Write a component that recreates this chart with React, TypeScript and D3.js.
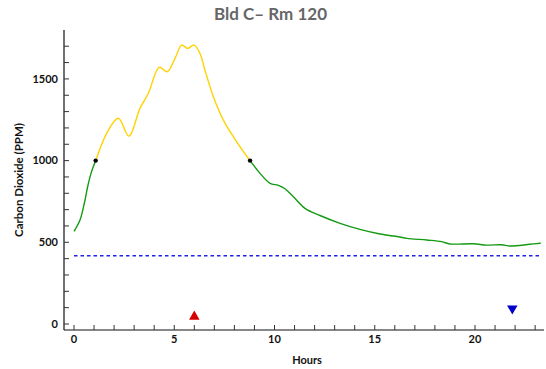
import React from "react";
import * as d3 from "d3";

const title = "Bld C– Rm 120";
const xLabel = "Hours";
const yLabel = "Carbon Dioxide (PPM)";

const hours = [0, 0.3, 0.55, 0.68, 0.85, 1.08, 1.63, 2.21, 2.74, 3.29, 3.71, 4.25, 4.65, 5.04, 5.37, 5.67, 5.99, 6.28, 6.53, 6.95, 7.45, 7.95, 8.78, 9.28, 9.78, 10.19, 10.52, 10.94, 11.52, 12.27, 13.27, 14.26, 15.26, 16.18, 16.6, 17.6, 18.34, 18.75, 19.92, 20.58, 21.33, 21.75, 22.74, 23.28];
const co2 = [567, 636, 759, 840, 922, 1000, 1167, 1259, 1150, 1320, 1412, 1571, 1544, 1626, 1707, 1687, 1707, 1657, 1554, 1391, 1248, 1146, 1000, 922, 861, 849, 828, 779, 708, 664, 616, 579, 551, 534, 524, 514, 504, 490, 491, 483, 485, 477, 488, 494];

const threshold = 1000;
const crossingHours = [1.08, 8.78];
const baseline = 418;
const baselineHours = [0, 23.3];

const upMarker = { hour: 6, value: 45 };
const downMarker = { hour: 21.86, value: 95 };

const xTicks = [0, 5, 10, 15, 20];
const xMinorTicks = d3.range(0, 24, 1);
const yTicks = [0, 500, 1000, 1500];
const yMinorTicks = d3.range(0, 1800, 100);

const W = 546;
const H = 369;
const FONT = "Lato, 'Open Sans', sans-serif";

export default function App() {
  const x = d3.scaleLinear().domain([0, 23]).range([74, 74 + 23 * 20.05]);
  const y = d3.scaleLinear().domain([0, 1800]).range([324, 29.9]);
  const axisLeft = 64;
  const axisBottom = 330;
  const axisRight = 544;
  const axisTop = y(1800);

  const data = hours.map((h, i) => ({ h, v: co2[i] }));
  const line = d3
    .line<{ h: number; v: number }>()
    .x((d) => x(d.h))
    .y((d) => y(d.v))
    .curve(d3.curveCatmullRom.alpha(0.5));
  const path = line(data) || "";

  const yThr = y(threshold);
  const tri = d3.symbol().type(d3.symbolTriangle).size(48)() || "";

  return (
    <svg width={W} height={H} style={{ position: "absolute", left: 0, top: 0 }}>
      <defs>
        <clipPath id="above">
          <rect x={0} y={0} width={W} height={yThr} />
        </clipPath>
        <clipPath id="below">
          <rect x={0} y={yThr} width={W} height={H - yThr} />
        </clipPath>
      </defs>
      <rect width={W} height={H} fill="#fff" />
      <text x={270.5} y={20} textAnchor="middle" fontFamily={FONT} fontWeight="bold" fontSize={17} fill="#666">
        {title}
      </text>

      {/* axes */}
      <line x1={axisLeft} x2={axisLeft} y1={axisTop} y2={axisBottom} stroke="#111" strokeWidth={1.2} />
      <line x1={axisLeft} x2={axisRight} y1={axisBottom} y2={axisBottom} stroke="#111" strokeWidth={1.2} />
      {yMinorTicks.map((t) => (
        <line key={"ym" + t} x1={axisLeft} x2={axisLeft + 5} y1={y(t)} y2={y(t)} stroke="#333" strokeWidth={1} />
      ))}
      {yTicks.map((t) => (
        <text key={"yt" + t} x={58} y={y(t)} dy="0.35em" textAnchor="end" fontFamily={FONT} fontWeight="bold" fontSize={11} fill="#111">
          {t}
        </text>
      ))}
      {xMinorTicks.map((t) => (
        <line key={"xm" + t} x1={x(t)} x2={x(t)} y1={axisBottom} y2={axisBottom - 5} stroke="#333" strokeWidth={1} />
      ))}
      {xTicks.map((t) => (
        <text key={"xt" + t} x={x(t)} y={339} dy="0.35em" textAnchor="middle" fontFamily={FONT} fontWeight="bold" fontSize={11} fill="#111">
          {t}
        </text>
      ))}
      <text x={307} y={360} dy="0.35em" textAnchor="middle" fontFamily={FONT} fontWeight="bold" fontSize={11} fill="#111">
        {xLabel}
      </text>
      <text
        transform={`translate(19,${(axisTop + axisBottom) / 2}) rotate(-90)`}
        dy="0.35em"
        textAnchor="middle"
        fontFamily={FONT}
        fontWeight="bold"
        fontSize={11.5}
        fill="#111"
      >
        {yLabel}
      </text>

      {/* baseline */}
      <line
        x1={x(baselineHours[0])}
        x2={x(baselineHours[1])}
        y1={y(baseline)}
        y2={y(baseline)}
        stroke="#2020e8"
        strokeWidth={1.5}
        strokeDasharray="3.5,3"
      />

      {/* curve */}
      <path d={path} fill="none" stroke="#149a14" strokeWidth={1.4} clipPath="url(#below)" />
      <path d={path} fill="none" stroke="#ffd200" strokeWidth={1.4} clipPath="url(#above)" />
      {crossingHours.map((h) => (
        <circle key={"c" + h} cx={x(h)} cy={y(threshold)} r={2.2} fill="#000" />
      ))}

      {/* markers */}
      <path d={tri} transform={`translate(${x(upMarker.hour)},${y(upMarker.value)})`} fill="#d40000" />
      <path d={tri} transform={`translate(${x(downMarker.hour)},${y(downMarker.value)}) rotate(180)`} fill="#0000c8" />
    </svg>
  );
}
